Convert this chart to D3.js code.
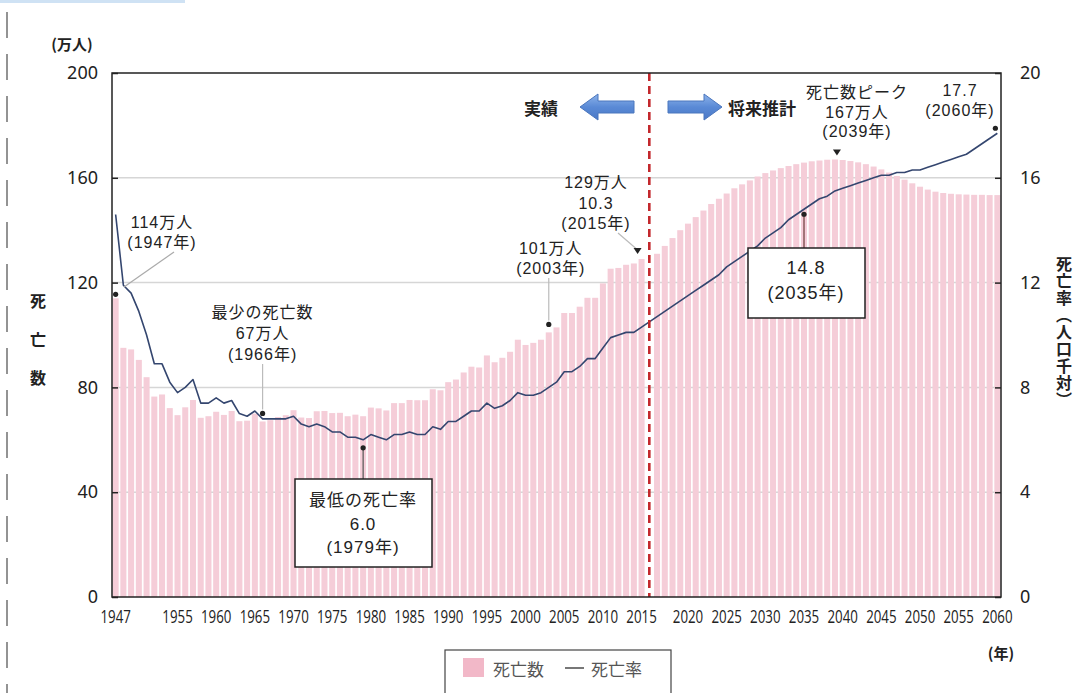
<!DOCTYPE html>
<html>
<head>
<meta charset="utf-8">
<script src="https://cdn.jsdelivr.net/npm/d3@7"></script>
<style>
  body { margin: 0; background: #fff; }
  svg { display: block; }
  text { font-family: "Liberation Sans", "Noto Sans CJK JP", sans-serif; fill: #222; }
</style>
</head>
<body>
<svg id="chart" width="1092" height="693"></svg>
<script>
// ---- data -------------------------------------------------------------
// actual figures (1947-2015)
const actualYears = d3.range(1947, 2016);
const actualDeaths = [ // 万人
  114, 95.1, 94.5, 90.5, 83.9, 76.5, 77.3, 72.1, 69.4, 72.4,
  75.2, 68.4, 69.0, 70.7, 69.5, 71.0, 67.1, 67.3, 70.0, 67,
  67.5, 68.7, 69.4, 71.3, 68.5, 68.3, 70.9, 71.0, 70.2, 70.3,
  69.0, 69.6, 69.0, 72.3, 72.0, 71.2, 74.0, 74.0, 75.2, 75.1,
  75.1, 79.3, 78.9, 82.0, 83.0, 85.7, 87.9, 87.6, 92.2, 89.6,
  91.3, 93.6, 98.2, 96.2, 97.0, 98.2, 101, 102.9, 108.4, 108.4,
  110.8, 114.2, 114.2, 119.7, 125.3, 125.6, 126.8, 127.3, 129
];
const actualRates = [ // 人口千対
  14.6, 11.9, 11.6, 10.9, 10.0, 8.9, 8.9, 8.2, 7.8, 8.0,
  8.3, 7.4, 7.4, 7.6, 7.4, 7.5, 7.0, 6.9, 7.1, 6.8,
  6.8, 6.8, 6.8, 6.9, 6.6, 6.5, 6.6, 6.5, 6.3, 6.3,
  6.1, 6.1, 6.0, 6.2, 6.1, 6.0, 6.2, 6.2, 6.3, 6.2,
  6.2, 6.5, 6.4, 6.7, 6.7, 6.9, 7.1, 7.1, 7.4, 7.2,
  7.3, 7.5, 7.8, 7.7, 7.7, 7.8, 8.0, 8.2, 8.6, 8.6,
  8.8, 9.1, 9.1, 9.5, 9.9, 10.0, 10.1, 10.1, 10.3
];
// projections (2016-2060)
const projYears = d3.range(2016, 2061);
const projDeaths = [
  131, 134, 137, 140, 142.5, 145, 147.5, 150, 152, 154,
  156, 157.5, 159, 160.5, 161.8, 162.8, 163.7, 164.5, 165.2, 165.8,
  166.3, 166.6, 166.9, 167, 166.8, 166.4, 165.9, 165.2, 164.3, 163.2,
  162.0, 160.7, 159.3, 157.9, 156.6, 155.5, 154.7, 154.2, 153.9, 153.7,
  153.6, 153.5, 153.5, 153.4, 153.4
];
const projRates = [
  10.7, 10.9, 11.1, 11.3, 11.5, 11.7, 11.9, 12.1, 12.3, 12.6,
  12.8, 13.0, 13.2, 13.4, 13.7, 13.9, 14.1, 14.4, 14.6, 14.8,
  15.0, 15.2, 15.3, 15.5, 15.6, 15.7, 15.8, 15.9, 16.0, 16.1,
  16.1, 16.2, 16.2, 16.3, 16.3, 16.4, 16.5, 16.6, 16.7, 16.8,
  16.9, 17.1, 17.3, 17.5, 17.7
];
const xTickLabels = ["1947", "1955", "1960", "1965", "1970", "1975", "1980", "1985",
  "1990", "1995", "2000", "2005", "2010", "2015", "2020", "2025", "2030", "2035",
  "2040", "2045", "2050", "2055", "2060"];
const deathTicks = [0, 40, 80, 120, 160, 200];
const rateTicks = [0, 4, 8, 12, 16, 20];

// ---- layout -------------------------------------------------------------
const svg = d3.select("#chart");
const plotL = 112, plotR = 1001, plotT = 73, plotB = 597;

const allYears = actualYears.concat(projYears);
const records = allYears.map((y, i) => ({
  year: y,
  deaths: i < actualYears.length ? actualDeaths[i] : projDeaths[i - actualYears.length],
  rate: i < actualYears.length ? actualRates[i] : projRates[i - actualYears.length]
}));

// band domain with one empty slot separating actual figures from projections
const domain = actualYears.map(String).concat(["gap"], projYears.map(String));
const x = d3.scaleBand().domain(domain).range([plotL, plotR]).paddingInner(0.22).paddingOuter(0.08);
const cx = y => x(String(y)) + x.bandwidth() / 2;
const yL = d3.scaleLinear().domain([0, 200]).range([plotB, plotT]);
const yR = d3.scaleLinear().domain([0, 20]).range([plotB, plotT]);

// page edge details
svg.append("rect").attr("x", 0).attr("y", 0).attr("width", 185).attr("height", 3).attr("fill", "#cfe2f4");
svg.append("line").attr("x1", 7).attr("x2", 7).attr("y1", 12).attr("y2", 693)
  .attr("stroke", "#666").attr("stroke-width", 1.4).attr("stroke-dasharray", "26,16");

// gridlines
svg.append("g").selectAll("line").data(deathTicks.filter(d => d > 0 && d < 200)).join("line")
  .attr("x1", plotL).attr("x2", plotR).attr("y1", d => yL(d)).attr("y2", d => yL(d))
  .attr("stroke", "#d6d6d6").attr("stroke-width", 1.5);

// bars: deaths
svg.append("g").selectAll("rect").data(records).join("rect")
  .attr("x", d => x(String(d.year)))
  .attr("width", x.bandwidth())
  .attr("y", d => yL(d.deaths))
  .attr("height", d => plotB - yL(d.deaths))
  .attr("fill", "#f5cdd8");

// line: death rate
const line = d3.line().x(d => cx(d.year)).y(d => yR(d.rate));
svg.append("path").datum(records).attr("d", line)
  .attr("fill", "none").attr("stroke", "#34466f").attr("stroke-width", 1.6)
  .attr("stroke-linejoin", "round");

// divider between actual figures and projections
const gx = x("gap") + x.bandwidth() / 2;
svg.append("line").attr("x1", gx).attr("x2", gx).attr("y1", plotT).attr("y2", plotB)
  .attr("stroke", "#c3282c").attr("stroke-width", 2.6).attr("stroke-dasharray", "8,5");

// plot frame
svg.append("rect").attr("x", plotL).attr("y", plotT).attr("width", plotR - plotL).attr("height", plotB - plotT)
  .attr("fill", "none").attr("stroke", "#222").attr("stroke-width", 1.5);

// left axis (deaths)
const axL = svg.append("g").attr("transform", `translate(${plotL},0)`)
  .call(d3.axisLeft(yL).tickValues(deathTicks).tickSize(-6).tickPadding(14));
axL.select(".domain").remove();
axL.selectAll("line").attr("stroke", "#222").attr("stroke-width", 1.5);
axL.selectAll("text").attr("font-size", 18).attr("fill", "#222")
  .style("font-family", "'Noto Sans', sans-serif");

// right axis (rate)
const axR = svg.append("g").attr("transform", `translate(${plotR},0)`)
  .call(d3.axisRight(yR).tickValues(rateTicks).tickSize(-6).tickPadding(19));
axR.select(".domain").remove();
axR.selectAll("line").attr("stroke", "#222").attr("stroke-width", 1.5);
axR.selectAll("text").attr("font-size", 18).attr("fill", "#222")
  .style("font-family", "'Noto Sans', sans-serif");

// bottom axis (years), horizontally condensed figures
const axB = svg.append("g").attr("transform", `translate(0,${plotB})`)
  .call(d3.axisBottom(x).tickValues(xTickLabels).tickSize(0).tickPadding(13));
axB.select(".domain").remove();
axB.selectAll("text").attr("font-size", 18).attr("fill", "#222")
  .attr("transform", "scale(0.74,1)")
  .style("font-family", "'Open Sans', sans-serif");

// axis titles
const cjk = "'Noto Sans CJK JP', sans-serif";
svg.append("text").attr("x", 72).attr("y", 43).attr("text-anchor", "middle")
  .attr("dominant-baseline", "central").attr("font-size", 15).attr("font-weight", "bold")
  .style("font-family", cjk).text("(万人)");
["死", "亡", "数"].forEach((c, i) => {
  svg.append("text").attr("x", 38).attr("y", 300 + i * 38.5).attr("text-anchor", "middle")
    .attr("dominant-baseline", "central").attr("font-size", 16).attr("font-weight", "bold")
    .style("font-family", cjk).text(c);
});
svg.append("text").attr("x", 1064).attr("y", 256)
  .style("writing-mode", "vertical-rl").attr("font-size", 16).attr("font-weight", "bold")
  .style("font-family", cjk).style("letter-spacing", "1px").text("死亡率（人口千対）");
svg.append("text").attr("x", 1001).attr("y", 652).attr("text-anchor", "middle")
  .attr("dominant-baseline", "central").attr("font-size", 15).attr("font-weight", "bold")
  .style("font-family", cjk).text("(年)");

// period arrows
const defs = svg.append("defs");
const grad = defs.append("linearGradient").attr("id", "arrowFill").attr("x1", 0).attr("x2", 0).attr("y1", 0).attr("y2", 1);
grad.append("stop").attr("offset", "0%").attr("stop-color", "#8db3ea");
grad.append("stop").attr("offset", "50%").attr("stop-color", "#5a8ad6");
grad.append("stop").attr("offset", "100%").attr("stop-color", "#4a78c6");
const ay = 107;
svg.append("path")
  .attr("d", `M580,${ay} L598,${ay - 13} L598,${ay - 6} L634,${ay - 6} L634,${ay + 6} L598,${ay + 6} L598,${ay + 13} Z`)
  .attr("fill", "url(#arrowFill)").attr("stroke", "#4b76bd").attr("stroke-width", 1);
svg.append("path")
  .attr("d", `M722,${ay} L704,${ay - 13} L704,${ay - 6} L668,${ay - 6} L668,${ay + 6} L704,${ay + 6} L704,${ay + 13} Z`)
  .attr("fill", "url(#arrowFill)").attr("stroke", "#4b76bd").attr("stroke-width", 1);
svg.append("text").attr("x", 541).attr("y", ay).attr("text-anchor", "middle").attr("dominant-baseline", "central")
  .attr("font-size", 17).attr("font-weight", "bold").style("font-family", cjk).text("実績");
svg.append("text").attr("x", 728).attr("y", ay).attr("text-anchor", "start").attr("dominant-baseline", "central")
  .attr("font-size", 17).attr("font-weight", "bold").style("font-family", cjk).text("将来推計");

// ---- annotations ----------------------------------------------------------
const ann = svg.append("g");
function label(xc, ys, lines, size) {
  lines.forEach((t, i) => {
    ann.append("text").attr("x", xc).attr("y", ys[i]).attr("text-anchor", "middle")
      .attr("dominant-baseline", "central").attr("font-size", size || 16)
      .style("letter-spacing", "1px").text(t);
  });
}
function dot(px, py) {
  ann.append("circle").attr("cx", px).attr("cy", py).attr("r", 2.6).attr("fill", "#222");
}
function tri(px, py) {
  ann.append("path").attr("d", `M${px - 4},${py - 4} L${px + 4},${py - 4} L${px},${py + 2} Z`).attr("fill", "#222");
}
function leader(x1, y1, x2, y2, col) {
  ann.append("line").attr("x1", x1).attr("y1", y1).attr("x2", x2).attr("y2", y2)
    .attr("stroke", col || "#aaa").attr("stroke-width", 1.2);
}
const byYear = new Map(records.map(d => [d.year, d]));

// 1947
label(162, [222, 242], ["114万人", "(1947年)"]);
leader(174, 252, 124, 287);
dot(cx(1947), yL(byYear.get(1947).deaths) - 4);

// minimum deaths 1966
const x66 = cx(1966);
label(x66, [312, 333, 354], ["最少の死亡数", "67万人", "(1966年)"]);
leader(x66, 364, x66, yL(byYear.get(1966).deaths) - 12, "#bbb");
dot(x66, yL(byYear.get(1966).deaths) - 8);

// 2003
const x03 = cx(2003);
label(x03 + 2, [248, 268], ["101万人", "(2003年)"]);
leader(x03, 278, x03, yL(byYear.get(2003).deaths) - 12, "#bbb");
dot(x03, yL(byYear.get(2003).deaths) - 8);

// 2015
label(596, [182, 203, 223], ["129万人", "10.3", "(2015年)"]);
leader(618, 233, cx(2015) - 5, yL(byYear.get(2015).deaths) - 10, "#bbb");
tri(cx(2015) - 4, yL(byYear.get(2015).deaths) - 7);

// peak 2039
label(857, [92, 112, 131], ["死亡数ピーク", "167万人", "(2039年)"]);
tri(cx(2039) + 2, yL(byYear.get(2039).deaths) - 6);

// 2060 rate
label(960, [90, 110], ["17.7", "(2060年)"]);
dot(cx(2060) - 2, yR(byYear.get(2060).rate) - 5);

// 2035 rate box
const x35 = cx(2035);
const d35 = yR(byYear.get(2035).rate) + 5;
leader(x35, d35, x35, 248, "#6b3a3a");
dot(x35, d35);
ann.append("rect").attr("x", 748).attr("y", 248).attr("width", 117).attr("height", 70)
  .attr("fill", "#fff").attr("stroke", "#222").attr("stroke-width", 1.5);
label(806, [268, 293], ["14.8", "(2035年)"], 18);

// lowest rate 1979 box
const x79 = cx(1979);
const d79 = yR(byYear.get(1979).rate) + 8;
leader(x79, d79, x79, 479, "#555");
dot(x79, d79);
ann.append("rect").attr("x", 295).attr("y", 479).attr("width", 137).attr("height", 88)
  .attr("fill", "#fff").attr("stroke", "#222").attr("stroke-width", 1.5);
label(363, [500, 524, 547], ["最低の死亡率", "6.0", "(1979年)"], 17);

// ---- legend ---------------------------------------------------------------
const lg = svg.append("g");
lg.append("rect").attr("x", 445).attr("y", 650).attr("width", 226).attr("height", 60)
  .attr("fill", "#fff").attr("stroke", "#444").attr("stroke-width", 1.2);
lg.append("rect").attr("x", 463).attr("y", 658).attr("width", 21).attr("height", 19).attr("fill", "#f2b8c8");
lg.append("text").attr("x", 493).attr("y", 668).attr("dominant-baseline", "central")
  .attr("font-size", 17).style("fill", "#555").style("font-family", cjk).text("死亡数");
lg.append("line").attr("x1", 565).attr("x2", 584).attr("y1", 668).attr("y2", 668)
  .attr("stroke", "#555").attr("stroke-width", 1.6);
lg.append("text").attr("x", 591).attr("y", 668).attr("dominant-baseline", "central")
  .attr("font-size", 17).style("fill", "#555").style("font-family", cjk).text("死亡率");
</script>
</body>
</html>
